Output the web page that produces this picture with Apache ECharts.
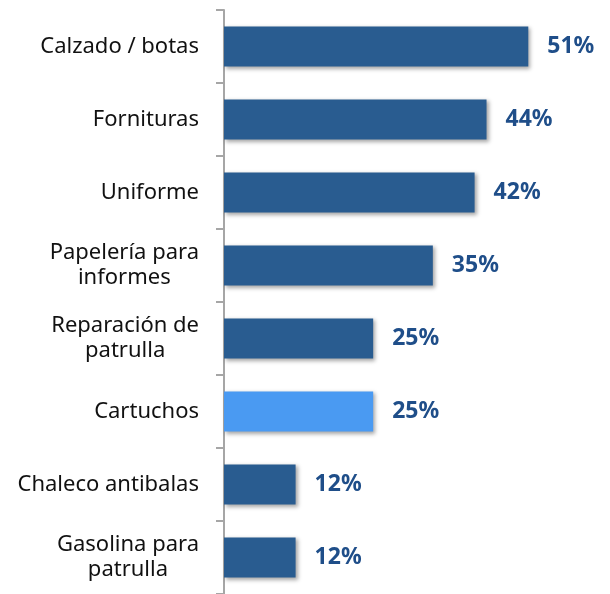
<!DOCTYPE html>
<html lang="es">
<head>
    <meta charset="UTF-8">
    <title>Gastos</title>
    <style>
        html, body { margin: 0; padding: 0; background: #fff; }
    </style>
</head>
<body>
<div id="main" style="width: 610px;height:594px;"></div>

<script src="https://cdn.jsdelivr.net/npm/echarts@6/dist/echarts.min.js"></script>
<script>
    // categorías (de arriba hacia abajo)
    var categorias = ['Calzado / botas', 'Fornituras', 'Uniforme', 'Papelería para\ninformes',
        'Reparación de\npatrulla', 'Cartuchos', 'Chaleco antibalas', 'Gasolina para\npatrulla'];
    var porcentajes = [51, 44, 42, 35, 25, 25, 12, 12];
    var resaltado = 'Cartuchos';

    var myChart = echarts.init(document.getElementById('main'));

    var datos = [];
    for (var i = 0; i < categorias.length; i++) {
        datos.push({
            value: porcentajes[i],
            itemStyle: { color: categorias[i] === resaltado ? '#4A9AF2' : '#295C90' }
        });
    }

    var option = {
        animation: false,
        grid: { left: 224, right: 28, top: 10, bottom: 0 },
        xAxis: {
            type: 'value',
            min: 0,
            max: 60,
            show: false
        },
        yAxis: {
            type: 'category',
            inverse: true,
            data: categorias,
            axisLine: { lineStyle: { color: '#A6A6A6', width: 2 } },
            axisTick: { show: true, length: 8, lineStyle: { color: '#A6A6A6', width: 2 } },
            axisLabel: {
                margin: 25,
                // cada línea centrada dentro del bloque
                formatter: function (v) {
                    return v.split('\n').map(function (s) { return '{c|' + s + '}'; }).join('\n');
                },
                rich: {
                    c: {
                        align: 'center',
                        color: '#111',
                        fontFamily: 'Noto Sans',
                        fontSize: 22,
                        lineHeight: 25
                    }
                }
            }
        },
        series: [{
            type: 'bar',
            data: datos,
            barCategoryGap: '45%',
            itemStyle: {
                shadowColor: 'rgba(0,0,0,0.35)',
                shadowBlur: 4,
                shadowOffsetX: 2,
                shadowOffsetY: 2
            },
            label: {
                show: true,
                position: 'right',
                distance: 19,
                formatter: '{c}%',
                color: '#1F4E89',
                fontWeight: 'bold',
                fontFamily: 'Noto Sans',
                fontSize: 23
            }
        }]
    };

    myChart.setOption(option);
</script>
</body>
</html>
